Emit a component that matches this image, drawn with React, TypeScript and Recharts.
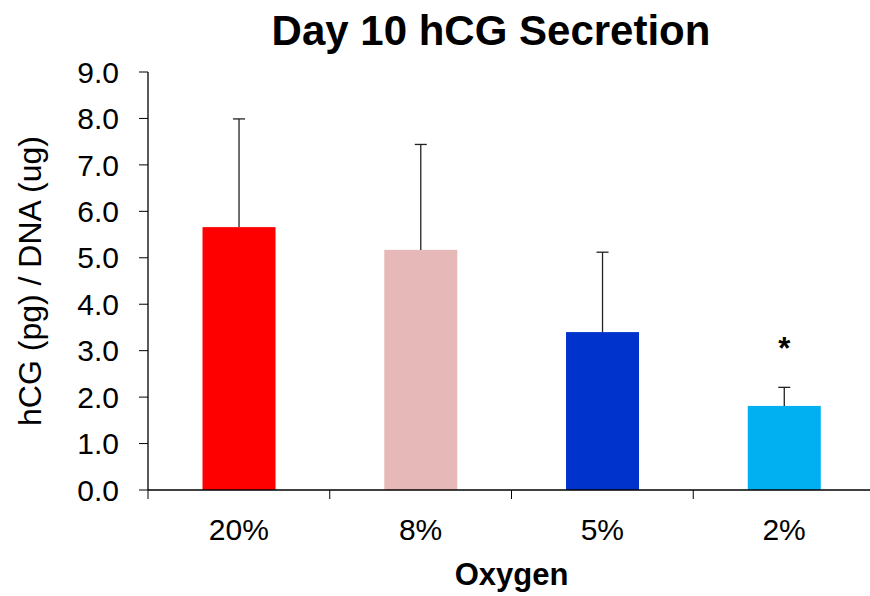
import React from "react"
import { BarChart, Bar, XAxis, YAxis, Cell, Label } from "recharts"

const categories = ["20%", "8%", "5%", "2%"]
const means = [5.66, 5.17, 3.4, 1.81]
const errors = [2.33, 2.27, 1.72, 0.4]
const marks = ["", "", "", "*"]
const colors = ["#FF0000", "#E6B9B8", "#0033CC", "#00B0F0"]
const yTicks = [0, 1, 2, 3, 4, 5, 6, 7, 8, 9]

const data = categories.map((c, i) => ({ oxygen: c, value: means[i], err: errors[i], mark: marks[i] }))

const FONT = '"Liberation Sans", Arial, sans-serif'

function BarWithError(props: any) {
  const { x, y, width, height, fill, payload } = props
  const perUnit = payload.value ? height / payload.value : 0
  const top = y - payload.err * perUnit
  const cx = x + width / 2
  return (
    <g>
      <rect x={x} y={y} width={width} height={height} fill={fill} />
      <line x1={cx} y1={y} x2={cx} y2={top} stroke="#222" strokeWidth={1.3} />
      <line x1={cx - 6} y1={top} x2={cx + 6} y2={top} stroke="#222" strokeWidth={1.3} />
      {payload.mark ? (
        <text x={cx} y={top - 28} textAnchor="middle" fontFamily={FONT} fontSize={31} fontWeight="bold" fill="#000">
          {payload.mark}
        </text>
      ) : null}
    </g>
  )
}

function OxygenTick(props: any) {
  const { x, y, payload, index, width } = props
  const half = payload && payload.offset ? payload.offset : width / 8
  return (
    <g>
      <line x1={x + half} y1={y} x2={x + half} y2={y + 9} stroke="#000" strokeWidth={1} />
      {index === 0 ? <line x1={x - half} y1={y} x2={x - half} y2={y + 9} stroke="#000" strokeWidth={1} /> : null}
      <text x={x} y={y + 50} textAnchor="middle" fontFamily={FONT} fontSize={30} fill="#000">
        {payload.value}
      </text>
    </g>
  )
}

export default function App() {
  return (
    <div style={{ position: "absolute", left: 0, top: 0, width: 870, height: 596, overflow: "hidden", background: "#fff" }}>
      <BarChart
        width={880}
        height={596}
        data={data}
        margin={{ top: 72, right: 5, left: 0, bottom: 0 }}
        barCategoryGap="30%"
      >
        <XAxis
          dataKey="oxygen"
          height={106}
          axisLine={{ stroke: "#000", strokeWidth: 1.3 }}
          tickLine={false}
          tickSize={0}
          tickMargin={0}
          tick={<OxygenTick />}
          interval={0}
        >
          <Label
            content={(p: any) => {
              const vb = p.viewBox || {}
              return (
                <text x={vb.x + vb.width / 2} y={585} textAnchor="middle" fontFamily={FONT} fontSize={31} fontWeight="bold" fill="#000">
                  Oxygen
                </text>
              )
            }}
          />
        </XAxis>
        <YAxis
          width={148}
          domain={[0, 9]}
          ticks={yTicks}
          interval={0}
          tickFormatter={(v: number) => v.toFixed(1)}
          axisLine={{ stroke: "#000", strokeWidth: 1.3 }}
          tickLine={{ stroke: "#000" }}
          tickSize={9}
          tickMargin={20}
          tick={{ fontFamily: FONT, fontSize: 30, fill: "#000" }}
        >
          <Label
            content={(p: any) => {
              const vb = p.viewBox || {}
              const cy = vb.y + vb.height / 2
              return (
                <text
                  x={41}
                  y={cy}
                  transform={`rotate(-90, 41, ${cy})`}
                  textAnchor="middle"
                  fontFamily={FONT}
                  fontSize={32}
                  fill="#000"
                >
                  hCG (pg) / DNA (ug)
                </text>
              )
            }}
          />
        </YAxis>
        <Bar dataKey="value" shape={<BarWithError />} isAnimationActive={false}>
          {data.map((d, i) => (
            <Cell key={d.oxygen} fill={colors[i]} />
          ))}
        </Bar>
      </BarChart>
      <svg width={870} height={60} style={{ position: "absolute", left: 0, top: 0, pointerEvents: "none" }}>
        <text x={491} y={45} textAnchor="middle" fontFamily={FONT} fontSize={42} fontWeight="bold" fill="#000">
          Day 10 hCG Secretion
        </text>
      </svg>
    </div>
  )
}
